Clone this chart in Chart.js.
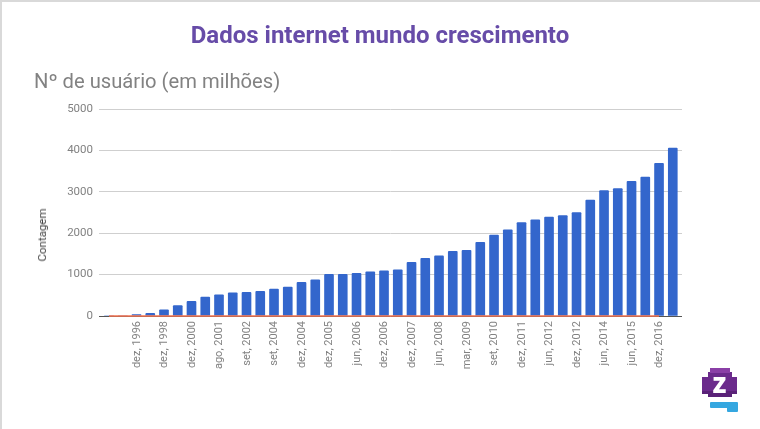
<!DOCTYPE html>
<html>
<head>
<meta charset="utf-8">
<script src="https://cdn.jsdelivr.net/npm/chart.js@4"></script>
<style>
  html, body { margin: 0; padding: 0; background: #fff; }
  #slide { position: relative; width: 760px; height: 429px; overflow: hidden; }
  #edge { position: absolute; left: 0; top: 0; width: 758px; height: 427px; border-left: 2px solid #d9d9d9; border-top: 2px solid #d9d9d9; }
  #mycanvas { position: absolute; left: 0; top: 0; }
  #title { position: absolute; left: 0; width: 760px; top: 21px; text-align: center; font: 700 24px Roboto, sans-serif; color: #674ca8; }
  #subtitle { position: absolute; left: 34px; top: 69px; font: 20.2px Roboto, sans-serif; color: #828282; }
  #ytitle { position: absolute; left: 42px; top: 235px; font: 11.5px Roboto, sans-serif; color: #444; transform: translate(-50%, -50%) rotate(-90deg); }
  #logo { position: absolute; left: 700px; top: 366px; }
</style>
</head>
<body>
<div id="slide">
  <div id="edge"></div>
  <canvas id="mycanvas" width="760" height="429"></canvas>
  <div id="title">Dados internet mundo crescimento</div>
  <div id="subtitle">Nº de usuário (em milhões)</div>
  <div id="ytitle">Contagem</div>
  <svg id="logo" width="40" height="48" viewBox="0 0 40 48">
    <rect x="10" y="36" width="28" height="6" rx="1" fill="#35a7e0"/>
    <rect x="27" y="38" width="11" height="8" rx="1" fill="#35a7e0"/>
    <rect x="8" y="6" width="24" height="25" fill="#6b2a8c"/>
    <rect x="2" y="11" width="35" height="17" fill="#6b2a8c"/>
    <rect x="10" y="2" width="20" height="5" fill="#8a3fa6"/>
    <rect x="2" y="25" width="35" height="3" fill="#5a2278"/>
    <rect x="8" y="28" width="24" height="3" fill="#5a2278"/>
    <text x="19.5" y="27" text-anchor="middle" font-family="Noto Sans" font-weight="800" font-size="28" fill="#fff">z</text>
  </svg>
</div>
<script>
var labels = ["", "", "dez, 1996", "", "dez, 1998", "", "dez, 2000", "", "ago, 2001", "", "set, 2002", "",
              "set, 2004", "", "dez, 2004", "", "dez, 2005", "", "jun, 2006", "", "dez, 2006", "",
              "dez, 2007", "", "jun, 2008", "", "mar, 2009", "", "set, 2010", "", "dez, 2011", "",
              "jun, 2012", "", "dez, 2012", "", "jun, 2014", "", "jun, 2015", "", "dez, 2016", ""];
var usuarios = [0, 0, 36, 62, 147, 250, 352, 460, 513, 558, 570, 598, 650, 700, 812, 875, 1005, 1005, 1030, 1065, 1090,
                1113, 1298, 1395, 1452, 1565, 1589, 1782, 1952, 2080, 2258, 2322, 2387, 2427, 2500, 2798, 3032, 3080, 3250, 3355, 3685, 4056];

var barras = [];
var linha = [];
for (var i in usuarios) {
    barras.push({x: Number(i), y: usuarios[i]});
    if (i <= 40) linha.push({x: Number(i), y: 0});
}

new Chart(document.getElementById("mycanvas"), {
    type: "bar",
    data: {
        datasets: [{
            type: "line",
            label: "Linha",
            data: linha,
            borderColor: "#f4734f",
            borderWidth: 1.5,
            pointRadius: 0,
            clip: false,
            order: 0
        }, {
            label: "Contagem",
            data: barras,
            backgroundColor: "#3366cc",
            barThickness: 9,
            borderRadius: {topLeft: 1, topRight: 1},
            order: 1
        }]
    },
    options: {
        responsive: false,
        animation: false,
        layout: {padding: {left: 0, top: 109, right: 78, bottom: 0}},
        plugins: {legend: {display: false}, tooltip: {enabled: false}},
        scales: {
            x: {
                type: "linear",
                offset: false,
                min: -0.727,
                max: 41.67,
                grid: {display: false},
                border: {display: false},
                afterFit: function (scale) { scale.height = 113; },
                afterBuildTicks: function (scale) {
                    var t = [];
                    for (var k = 2; k <= 40; k += 2) t.push({value: k});
                    scale.ticks = t;
                },
                ticks: {
                    autoSkip: false,
                    minRotation: 90,
                    maxRotation: 90,
                    padding: -3,
                    labelOffset: 0.5,
                    color: "#828282",
                    font: {family: "Roboto", size: 11},
                    callback: function (v) { return labels[v]; }
                }
            },
            y: {
                min: 0,
                max: 5000,
                afterFit: function (scale) { scale.width = 99; },
                border: {display: false},
                grid: {
                    drawTicks: false,
                    color: function (c) { return c.tick.value === 0 ? "#555555" : "#cfcfcf"; }
                },
                ticks: {
                    stepSize: 1000,
                    padding: 6,
                    color: "#828282",
                    font: {family: "Roboto", size: 11.5},
                    callback: function (v) { return String(v); }
                }
            }
        }
    }
});
</script>
</body>
</html>
